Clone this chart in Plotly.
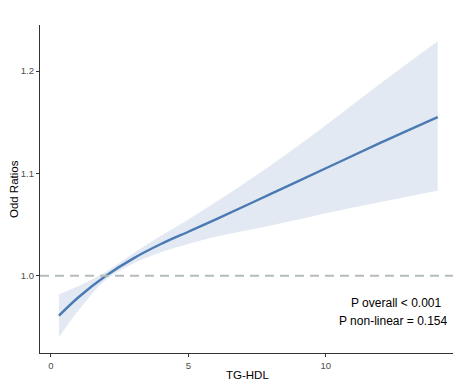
import plotly.graph_objects as go

tg_hdl = [0.29, 1.0, 2.0, 3.0, 4.0, 5.0, 6.0, 8.0, 10.0, 12.0, 14.07]
odds_ratio = [0.961, 0.979, 1.000, 1.017, 1.031, 1.043, 1.055, 1.080, 1.105, 1.130, 1.155]
ci_upper = [0.982, 0.990, 1.004, 1.022, 1.039, 1.055, 1.072, 1.108, 1.147, 1.188, 1.229]
ci_lower = [0.940, 0.966, 0.996, 1.012, 1.023, 1.031, 1.038, 1.049, 1.061, 1.072, 1.083]

x_ticks = [0, 5, 10]
y_ticks = [1.0, 1.1, 1.2]
y_tick_labels = ["1.0", "1.1", "1.2"]
ref_line = 1.0
annot_lines = ["P overall < 0.001", "P non-linear = 0.154"]

FONT = "Liberation Sans, Arial, sans-serif"

fig = go.Figure()
fig.add_trace(go.Scatter(
    x=tg_hdl, y=ci_lower, mode="lines",
    line=dict(width=0, shape="spline", color="rgba(0,0,0,0)"),
    hoverinfo="skip", showlegend=False))
fig.add_trace(go.Scatter(
    x=tg_hdl, y=ci_upper, mode="lines", fill="tonexty", fillcolor="#e3e9f3",
    line=dict(width=0, shape="spline", color="rgba(0,0,0,0)"),
    hoverinfo="skip", showlegend=False))
fig.add_trace(go.Scatter(
    x=tg_hdl, y=odds_ratio, mode="lines",
    line=dict(color="#4a7ab4", width=2.4, shape="spline"), showlegend=False))

fig.add_shape(type="line", xref="paper", yref="y", x0=0, x1=1, y0=ref_line, y1=ref_line,
              line=dict(color="#b4bcbc", width=2, dash="9px,6px"))

fig.add_annotation(xref="paper", yref="paper", x=0.858, y=0.152, xanchor="center", yanchor="middle",
                   text=annot_lines[0], showarrow=False,
                   font=dict(family=FONT, size=12, color="black"))
fig.add_annotation(xref="paper", yref="paper", x=0.852, y=0.097, xanchor="center", yanchor="middle",
                   text=annot_lines[1], showarrow=False,
                   font=dict(family=FONT, size=12, color="black"))

# axis titles
fig.add_annotation(xref="paper", yref="paper", x=0.5, y=-0.068,
                   xanchor="center", yanchor="middle", text="TG-HDL", showarrow=False,
                   font=dict(family=FONT, size=11.5, color="black"))
fig.add_annotation(xref="paper", yref="paper", x=-0.0625, y=0.5,
                   xanchor="center", yanchor="middle", text="Odd Ratios", textangle=-90,
                   showarrow=False, font=dict(family=FONT, size=11.5, color="black"))

# page body has an 8px default margin: compensate so the plot lands where the reference has it
fig.update_layout(
    width=453, height=379,
    margin=dict(l=32, r=6, t=17, b=34, autoexpand=False),
    plot_bgcolor="white", paper_bgcolor="white",
    font=dict(family=FONT, size=11, color="black"),
    xaxis=dict(range=[-0.4, 14.7], tickvals=x_ticks, showgrid=False, zeroline=False,
               showline=True, linecolor="#333333", linewidth=1.2, automargin=False,
               ticks="outside", ticklen=3, tickcolor="#333333",
               tickfont=dict(family=FONT, size=9.5, color="#4d4d4d")),
    yaxis=dict(range=[0.9245, 1.245], tickvals=y_ticks, ticktext=y_tick_labels,
               showgrid=False, zeroline=False, automargin=False,
               showline=True, linecolor="#333333", linewidth=1.2,
               ticks="outside", ticklen=3, tickcolor="#333333",
               tickfont=dict(family=FONT, size=9.5, color="#4d4d4d")),
)

fig.write_html("out.html")
